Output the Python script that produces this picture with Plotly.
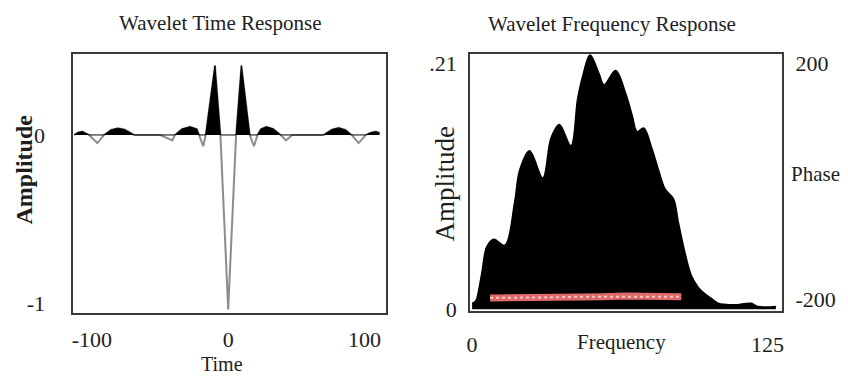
import numpy as np
import plotly.graph_objects as go

# ---------------- data ----------------
# Wavelet time response (time, amplitude)
time_t = [-113, -110, -107, -104, -102, -96, -91, -86, -81, -76, -71, -69,
          -50, -41, -39, -34, -28, -23, -21.4, -18.3, -16.5, -9.7, -5.7,
          0, 5.8, 9.7, 15.8, 18.9, 21.5, 24, 28, 33, 38.5, 42.4, 47,
          70, 76, 81, 86, 90.5, 95.7, 101, 104, 108, 111]
time_amp = [0.0, 0.015, 0.02, 0.01, 0.0, -0.048, 0.0, 0.03, 0.04, 0.032, 0.01, 0.0,
            0.0, -0.032, 0.0, 0.035, 0.048, 0.035, 0.0, -0.067, 0.0, 0.411, 0.0,
            -1.035, 0.0, 0.411, 0.0, -0.067, 0.0, 0.035, 0.048, 0.036, 0.0, -0.032, 0.0,
            0.0, 0.032, 0.042, 0.03, 0.0, -0.048, 0.0, 0.012, 0.02, 0.012]

# Wavelet frequency response (frequency, amplitude)
freq = [0, 1.3, 2.0, 4.1, 6.2, 9.2, 13.8, 18.0, 20.1, 24.3, 29.9, 33.4, 36.9,
        41.8, 44.6, 46.7, 49.9, 53.7, 55.8, 60.7, 64.9, 67.7, 69.8, 72.6, 76.0,
        78.9, 81.7, 85.2, 87.2, 90.1, 92.8, 95.6, 98.4, 101.2, 104.0, 111.0,
        118.0, 120.8, 128.5]
freq_amp = [0.005, 0.0066, 0.0093, 0.031, 0.0535, 0.060, 0.0546, 0.0917, 0.119,
            0.1357, 0.1123, 0.1466, 0.158, 0.1398, 0.1796, 0.1988, 0.2175, 0.2016,
            0.192, 0.2043, 0.185, 0.166, 0.152, 0.155, 0.138, 0.119, 0.1027,
            0.0945, 0.075, 0.048, 0.0286, 0.019, 0.0134, 0.0093, 0.0052, 0.0039,
            0.0052, 0.0025, 0.0025]

# Phase (frequency, degrees)
phase_f = [7.6, 15, 25, 35, 45, 55, 65, 75, 85, 88.5]
phase_deg = [-197, -197, -196, -196, -195, -195, -194, -194, -195, -195]

time_ticks = [-100, 0, 100]
time_ticktext = ["-100", "0", "100"]
time_amp_ticks = [-1, 0]
time_amp_ticktext = ["-1", "0"]
freq_ticks = [0, 125]
freq_amp_ticks = [0, 0.21]
freq_amp_ticktext = ["0", ".21"]
phase_ticks = [-200, 200]
phase_ticktext = ["-200", "200"]

# ---------------- figure ----------------
W, H = 848, 380
FONT = "Liberation Serif"
TXT = "#1e1e1e"

fig = go.Figure()

# time response: gray full line, black fill of positive lobes
fig.add_trace(go.Scatter(x=time_t, y=time_amp, mode="lines",
                         line=dict(color="#8c8c8c", width=2),
                         xaxis="x", yaxis="y", showlegend=False))
pos_amp = np.maximum(np.array(time_amp), 0.0)
fig.add_trace(go.Scatter(x=time_t, y=pos_amp, mode="lines", fill="tozeroy",
                         fillcolor="black", line=dict(color="black", width=1),
                         xaxis="x", yaxis="y", showlegend=False))

# frequency response: black filled amplitude
fig.add_trace(go.Scatter(x=freq, y=freq_amp, mode="lines", fill="tozeroy",
                         fillcolor="black", line=dict(color="black", width=1.5, shape="spline"),
                         xaxis="x2", yaxis="y2", showlegend=False))
# phase
fig.add_trace(go.Scatter(x=phase_f, y=phase_deg, mode="lines",
                         line=dict(color="#e06a6a", width=7),
                         xaxis="x2", yaxis="y3", showlegend=False))
fig.add_trace(go.Scatter(x=phase_f, y=phase_deg, mode="lines",
                         line=dict(color="#f6c4c4", width=2, dash="dot"),
                         xaxis="x2", yaxis="y3", showlegend=False))

ax_common = dict(showgrid=False, zeroline=False, showline=True, mirror=True,
                 linecolor="#3a3a3a", linewidth=2, ticks="",
                 tickfont=dict(family=FONT, size=22, color=TXT))

fig.update_layout(
    width=W, height=H, margin=dict(l=0, r=0, t=0, b=0),
    paper_bgcolor="white", plot_bgcolor="white",
    xaxis=dict(domain=[70 / W, 385 / W], range=[-113.5, 115.6],
               tickvals=time_ticks, ticktext=time_ticktext,
               ticklabelstandoff=5, **ax_common),
    yaxis=dict(domain=[1 - 322 / H, 1 - 53 / H], range=[-1.057, 0.48],
               tickvals=time_amp_ticks, ticktext=time_amp_ticktext,
               ticklabelstandoff=22, **ax_common),
    xaxis2=dict(domain=[470 / W, 784 / W], range=[-0.84, 130.9],
                tickvals=freq_ticks, ticklabelstandoff=12, anchor="y2", **ax_common),
    yaxis2=dict(domain=[1 - 320 / H, 1 - 53 / H], range=[-0.0016, 0.2183],
                tickvals=freq_amp_ticks, ticktext=freq_amp_ticktext,
                ticklabelstandoff=7, anchor="x2", **ax_common),
    yaxis3=dict(overlaying="y2", side="right", anchor="x2",
                range=[-219.6, 216.3], tickvals=phase_ticks, ticktext=phase_ticktext,
                ticklabelstandoff=13,
                showgrid=False, zeroline=False, showline=False, ticks="",
                tickfont=dict(family=FONT, size=22, color=TXT)),
)

def ann(text, x, y, size=21, angle=0, bold=False):
    fig.add_annotation(text=("<b>%s</b>" % text) if bold else text,
                       x=x / W, y=1 - y / H, xref="paper", yref="paper",
                       showarrow=False, textangle=angle,
                       xanchor="center", yanchor="middle",
                       font=dict(family=FONT, size=size, color=TXT))

ann("Wavelet Time Response", 217.5, 21)
ann("Wavelet Frequency Response", 613.5, 22)
ann("Time", 220, 375, size=20)
ann("Frequency", 623, 352)
ann("Phase", 818, 178)
ann("Amplitude", 20, 173, size=24, angle=-90, bold=True)
ann("Amplitude", 445, 187, size=27, angle=-90)

fig.write_html("out.html")
